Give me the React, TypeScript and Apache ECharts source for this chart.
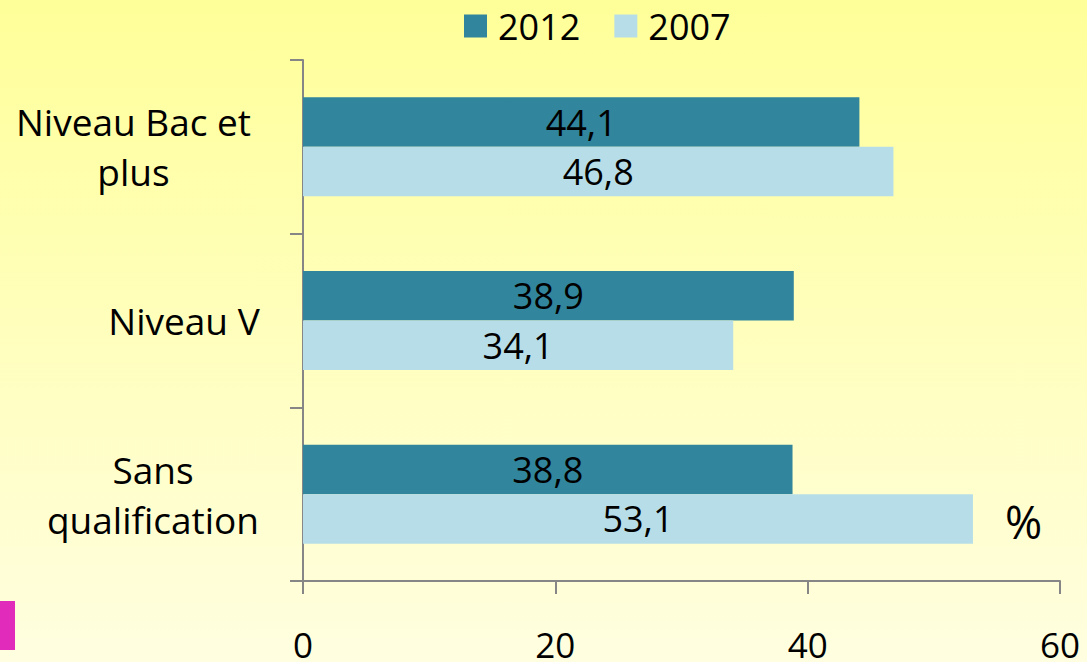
import React, { useEffect, useRef } from "react";
import * as echarts from "echarts";

const categories = ["Niveau Bac et plus", "Niveau V", "Sans qualification"];
const categoryLines = [["Niveau Bac et", "plus"], ["Niveau V"], ["Sans", "qualification"]];
const seriesNames = ["2012", "2007"];
const values2012 = [44.1, 38.9, 38.8];
const values2007 = [46.8, 34.1, 53.1];
const xTicks = [0, 20, 40, 60];
const unitLabel = "%";

const FONT = "Open Sans";

export default function App() {
  const ref = useRef<HTMLDivElement>(null);
  useEffect(() => {
    document.body.style.margin = "0";
    const chart = echarts.init(ref.current!, null, { renderer: "svg" });
    const boxWidths = [257, 156, 218];
    const rich: Record<string, any> = {};
    boxWidths.forEach((w, i) => {
      rich["c" + i] = { width: w, align: "center", fontSize: 37, lineHeight: 50, fontFamily: FONT, color: "#000" };
    });
    const barLabel = {
      show: true,
      position: "inside",
      fontSize: 36,
      fontFamily: FONT,
      color: "#000",
      formatter: (p: any) => String(p.value).replace(".", ","),
    };
    chart.setOption({
      animation: false,
      backgroundColor: {
        type: "linear", x: 0, y: 0, x2: 0, y2: 1,
        colorStops: [
          { offset: 0, color: "#ffff99" },
          { offset: 1, color: "#fffee0" },
        ],
      },
      legend: {
        data: seriesNames,
        left: 459,
        top: 3,
        itemWidth: 23,
        itemHeight: 23,
        itemGap: 34,
        icon: "rect",
        textStyle: { fontSize: 36, fontFamily: FONT, color: "#000", padding: [0, 0, 0, 6] },
      },
      grid: { left: 303, right: 27, top: 60, bottom: 81, containLabel: false },
      xAxis: {
        type: "value",
        min: xTicks[0],
        max: xTicks[xTicks.length - 1],
        interval: 20,
        axisLine: { show: true, lineStyle: { color: "#868686", width: 2 } },
        axisTick: { show: true, inside: false, length: 13, lineStyle: { color: "#868686", width: 2 } },
        splitLine: { show: false },
        axisLabel: { fontSize: 35, fontFamily: FONT, color: "#000", margin: 46 },
      },
      yAxis: {
        type: "category",
        data: categories,
        inverse: true,
        axisLine: { show: true, lineStyle: { color: "#868686", width: 2 } },
        axisTick: { show: true, length: 13, lineStyle: { color: "#868686", width: 2 } },
        axisLabel: {
          margin: 41,
          align: "right",
          formatter: (v: string) => {
            const i = categories.indexOf(v);
            return categoryLines[i].map((l) => `{c${i}|${l}}`).join("\n");
          },
          rich,
        },
      },
      series: [
        {
          name: seriesNames[0],
          type: "bar",
          data: values2012,
          barGap: "0%",
          barCategoryGap: "43%",
          itemStyle: { color: "#31859c" },
          label: barLabel,
        },
        {
          name: seriesNames[1],
          type: "bar",
          data: values2007,
          barGap: "0%",
          barCategoryGap: "43%",
          itemStyle: { color: "#b7dee8" },
          label: barLabel,
        },
      ],
      graphic: [
        {
          type: "text",
          left: 1005,
          top: 499,
          style: { text: unitLabel, fontSize: 45, fontFamily: FONT, fill: "#000" },
        },
        {
          type: "rect",
          shape: { x: 0, y: 601, width: 15, height: 49 },
          style: { fill: "#e12bbb" },
        },
      ],
    });
    return () => chart.dispose();
  }, []);
  return <div ref={ref} style={{ width: 1087, height: 662 }} />;
}
